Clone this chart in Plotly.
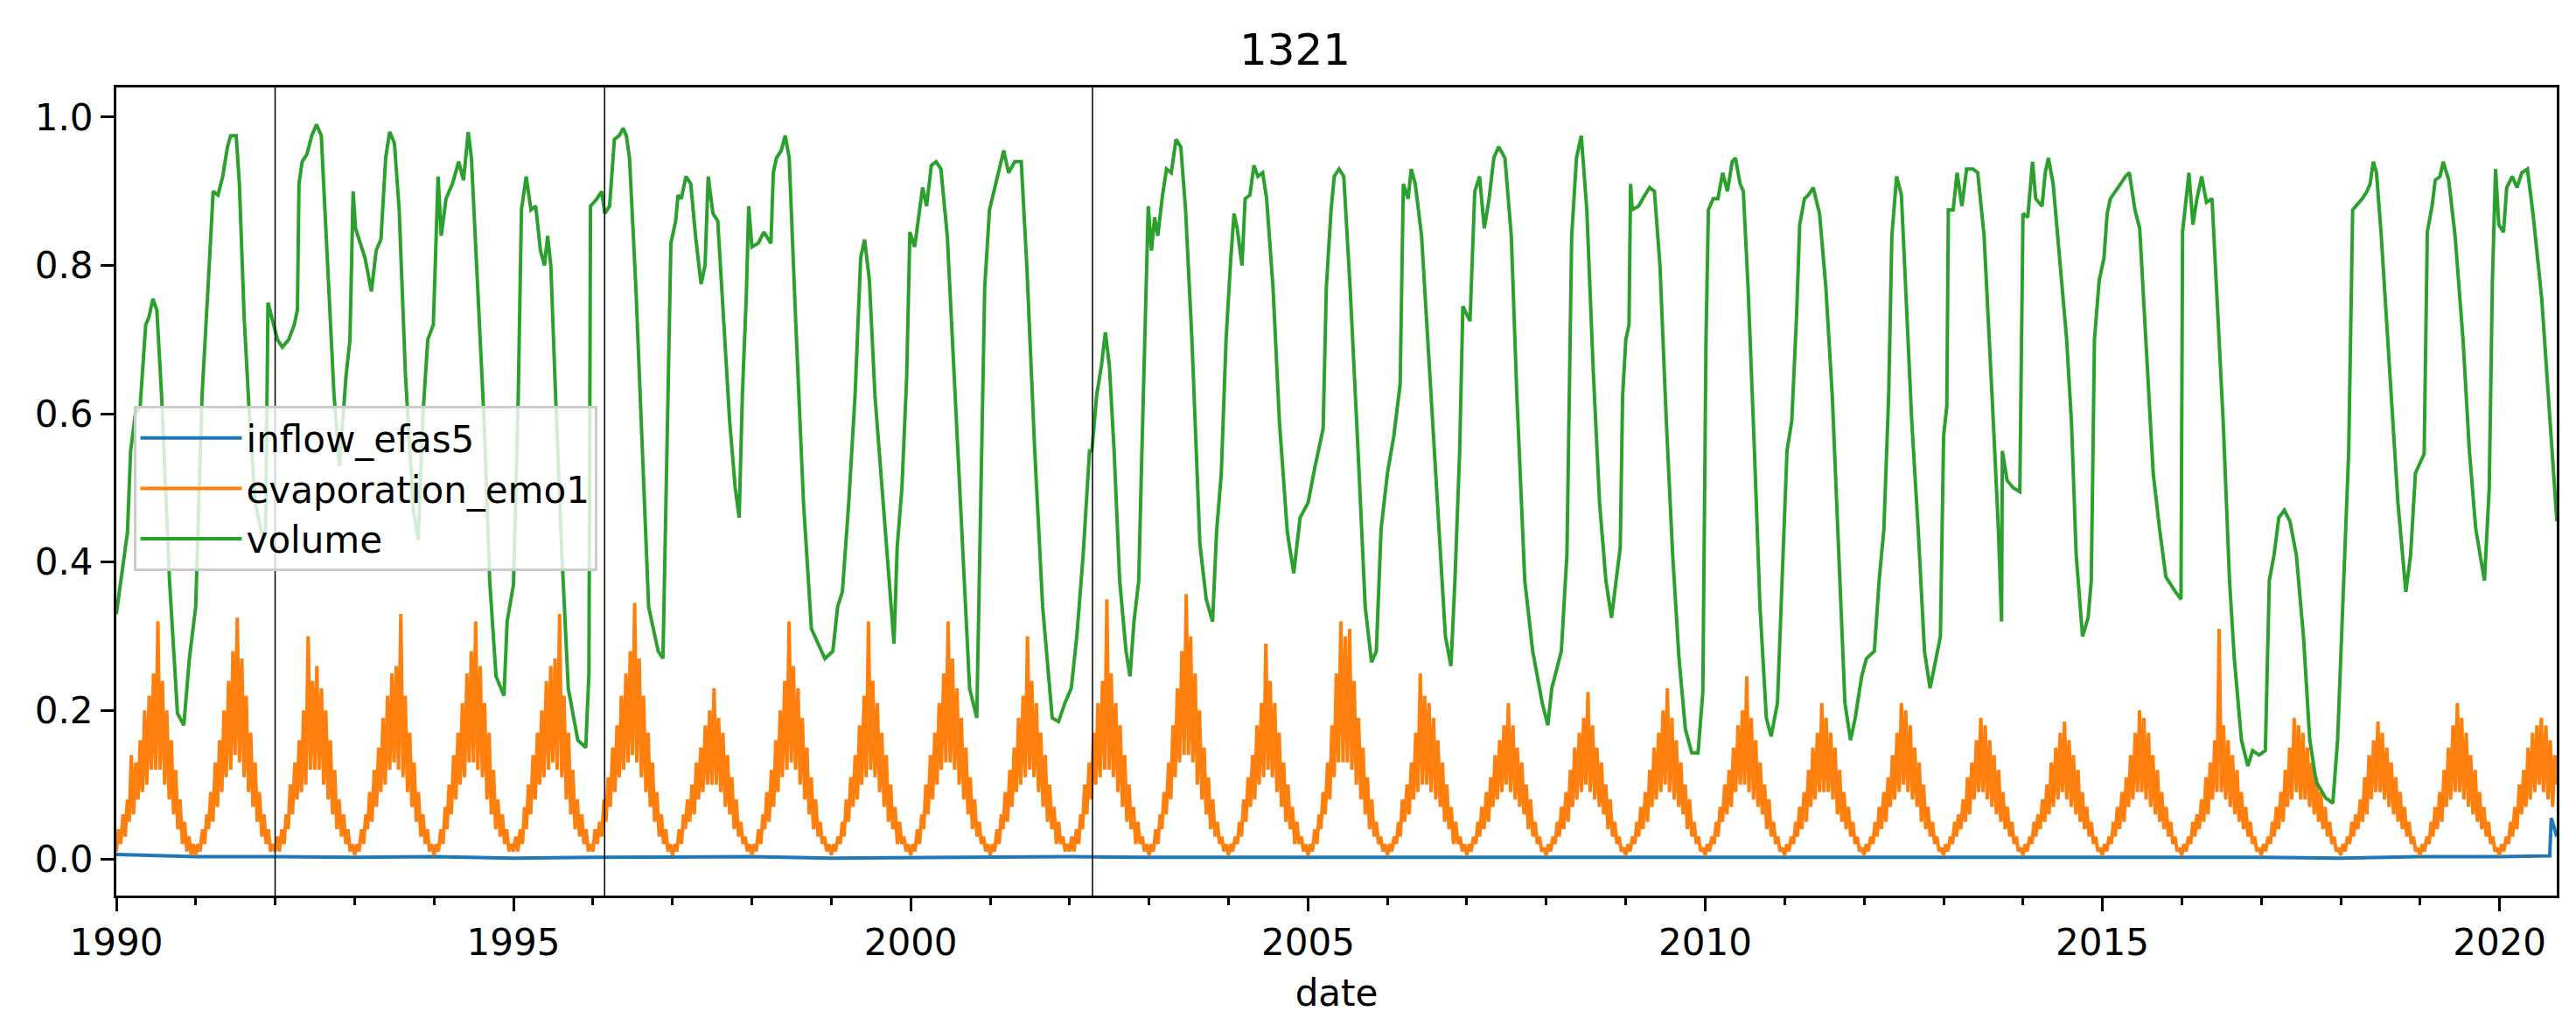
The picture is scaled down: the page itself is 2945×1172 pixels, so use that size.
import pandas as pd
import plotly.graph_objects as go

title = "1321"
series_names = ["inflow_efas5", "evaporation_emo1", "volume"]
colors = ["#1f77b4", "#ff7f0e", "#2ca02c"]

# vertical marker lines
event_dates = ["1992-01-01", "1996-02-24", "2002-04-16"]

# volume (decimal year, value)
vol_year = [
    1990.00, 1990.14, 1990.18, 1990.24, 1990.30, 1990.37, 1990.41, 1990.46, 1990.51, 1990.57,
    1990.67, 1990.77, 1990.85, 1990.92, 1991.00, 1991.08, 1991.16, 1991.22, 1991.28, 1991.34,
    1991.40, 1991.44, 1991.51, 1991.55, 1991.61, 1991.67, 1991.75, 1991.83, 1991.88, 1991.91,
    1992.03, 1992.09, 1992.17, 1992.24, 1992.28, 1992.30, 1992.34, 1992.40, 1992.46, 1992.52,
    1992.58, 1992.66, 1992.74, 1992.81, 1992.89, 1992.94, 1992.98, 1993.01, 1993.13, 1993.21,
    1993.27, 1993.33, 1993.39, 1993.44, 1993.50, 1993.56, 1993.64, 1993.74, 1993.80, 1993.86,
    1993.92, 1993.99, 1994.05, 1994.09, 1994.15, 1994.23, 1994.31, 1994.37, 1994.43, 1994.47,
    1994.55, 1994.63, 1994.70, 1994.78, 1994.88, 1994.92, 1995.00, 1995.06, 1995.10, 1995.16,
    1995.22, 1995.28, 1995.34, 1995.39, 1995.43, 1995.47, 1995.53, 1995.61, 1995.69, 1995.81,
    1995.91, 1995.95, 1995.97, 1996.05, 1996.11, 1996.15, 1996.21, 1996.27, 1996.33, 1996.38,
    1996.42, 1996.46, 1996.54, 1996.62, 1996.70, 1996.76, 1996.82, 1996.88, 1996.92, 1996.96,
    1996.98, 1997.04, 1997.07, 1997.11, 1997.17, 1997.23, 1997.29, 1997.36, 1997.41, 1997.45,
    1997.51, 1997.57, 1997.63, 1997.72, 1997.79, 1997.84, 1997.88, 1997.93, 1997.96, 1998.00,
    1998.08, 1998.15, 1998.24, 1998.27, 1998.31, 1998.37, 1998.42, 1998.47, 1998.55, 1998.65,
    1998.75, 1998.83, 1998.92, 1999.02, 1999.08, 1999.14, 1999.22, 1999.30, 1999.37, 1999.42,
    1999.48, 1999.55, 1999.63, 1999.71, 1999.79, 1999.83, 1999.89, 1999.95, 1999.99, 2000.05,
    2000.09, 2000.15, 2000.20, 2000.26, 2000.32, 2000.38, 2000.46, 2000.56, 2000.66, 2000.74,
    2000.83, 2000.87, 2000.93, 2000.99, 2001.07, 2001.17, 2001.23, 2001.31, 2001.39, 2001.46,
    2001.56, 2001.66, 2001.78, 2001.86, 2001.94, 2002.02, 2002.09, 2002.17, 2002.25, 2002.28,
    2002.34, 2002.40, 2002.45, 2002.50, 2002.56, 2002.63, 2002.71, 2002.76, 2002.81, 2002.87,
    2002.91, 2002.95, 2002.99, 2003.03, 2003.07, 2003.11, 2003.17, 2003.22, 2003.28, 2003.34,
    2003.40, 2003.46, 2003.54, 2003.64, 2003.72, 2003.80, 2003.85, 2003.91, 2003.97, 2004.03,
    2004.07, 2004.11, 2004.17, 2004.21, 2004.27, 2004.32, 2004.37, 2004.43, 2004.48, 2004.56,
    2004.64, 2004.74, 2004.82, 2004.90, 2005.00, 2005.09, 2005.19, 2005.23, 2005.29, 2005.33,
    2005.39, 2005.45, 2005.53, 2005.63, 2005.72, 2005.80, 2005.86, 2005.92, 2006.00, 2006.08,
    2006.16, 2006.20, 2006.26, 2006.30, 2006.35, 2006.43, 2006.53, 2006.65, 2006.73, 2006.80,
    2006.85, 2006.91, 2006.95, 2007.04, 2007.10, 2007.16, 2007.22, 2007.28, 2007.34, 2007.40,
    2007.48, 2007.56, 2007.63, 2007.73, 2007.83, 2007.95, 2008.02, 2008.07, 2008.19, 2008.26,
    2008.32, 2008.38, 2008.44, 2008.51, 2008.59, 2008.67, 2008.75, 2008.82, 2008.88, 2008.93,
    2008.96, 2009.00, 2009.04, 2009.06, 2009.08, 2009.16, 2009.24, 2009.30, 2009.36, 2009.43,
    2009.51, 2009.59, 2009.67, 2009.75, 2009.83, 2009.91, 2009.97, 2010.01, 2010.04, 2010.10,
    2010.16, 2010.22, 2010.28, 2010.34, 2010.38, 2010.44, 2010.48, 2010.54, 2010.62, 2010.69,
    2010.77, 2010.83, 2010.91, 2010.97, 2011.03, 2011.09, 2011.15, 2011.19, 2011.25, 2011.30,
    2011.36, 2011.44, 2011.52, 2011.60, 2011.68, 2011.76, 2011.83, 2011.89, 2011.97, 2012.03,
    2012.13, 2012.19, 2012.25, 2012.31, 2012.35, 2012.41, 2012.47, 2012.52, 2012.60, 2012.68,
    2012.76, 2012.83, 2012.90, 2012.96, 2013.00, 2013.04, 2013.06, 2013.12, 2013.17, 2013.23,
    2013.29, 2013.37, 2013.43, 2013.51, 2013.61, 2013.69, 2013.73, 2013.74, 2013.80, 2013.88,
    2013.96, 2014.00, 2014.06, 2014.12, 2014.16, 2014.24, 2014.28, 2014.32, 2014.38, 2014.45,
    2014.55, 2014.61, 2014.67, 2014.75, 2014.82, 2014.86, 2014.90, 2014.96, 2015.02, 2015.06,
    2015.10, 2015.23, 2015.29, 2015.34, 2015.41, 2015.47, 2015.55, 2015.64, 2015.72, 2015.80,
    2015.92, 2015.99, 2016.01, 2016.09, 2016.14, 2016.19, 2016.25, 2016.31, 2016.38, 2016.44,
    2016.52, 2016.60, 2016.66, 2016.75, 2016.83, 2016.89, 2016.97, 2017.05, 2017.10, 2017.16,
    2017.22, 2017.29, 2017.36, 2017.44, 2017.53, 2017.61, 2017.69, 2017.81, 2017.90, 2017.96,
    2018.02, 2018.10, 2018.15, 2018.27, 2018.33, 2018.37, 2018.41, 2018.45, 2018.51, 2018.62,
    2018.72, 2018.82, 2018.88, 2018.94, 2019.05, 2019.09, 2019.15, 2019.19, 2019.25, 2019.29,
    2019.36, 2019.44, 2019.54, 2019.62, 2019.70, 2019.81, 2019.87, 2019.91, 2019.95, 2019.99,
    2020.05, 2020.09, 2020.16, 2020.22, 2020.28, 2020.35, 2020.42, 2020.53, 2020.63, 2020.72,
]
vol_value = [
    0.33, 0.44, 0.55, 0.60, 0.61, 0.72, 0.73, 0.755, 0.74, 0.625,
    0.375, 0.196, 0.18, 0.27, 0.34, 0.625, 0.78, 0.90, 0.895, 0.92,
    0.96, 0.975, 0.975, 0.91, 0.73, 0.61, 0.48, 0.44, 0.44, 0.75,
    0.70, 0.69, 0.70, 0.72, 0.74, 0.91, 0.94, 0.95, 0.975, 0.99,
    0.975, 0.80, 0.625, 0.53, 0.65, 0.70, 0.90, 0.85, 0.81, 0.765,
    0.82, 0.835, 0.945, 0.98, 0.965, 0.875, 0.65, 0.47, 0.43, 0.60,
    0.70, 0.72, 0.92, 0.84, 0.89, 0.91, 0.94, 0.915, 0.98, 0.945,
    0.77, 0.59, 0.375, 0.246, 0.22, 0.32, 0.37, 0.625, 0.875, 0.92,
    0.875, 0.88, 0.82, 0.80, 0.84, 0.80, 0.625, 0.41, 0.23, 0.16,
    0.15, 0.25, 0.88, 0.89, 0.90, 0.87, 0.88, 0.97, 0.975, 0.985,
    0.975, 0.945, 0.77, 0.55, 0.34, 0.31, 0.28, 0.27, 0.50, 0.73,
    0.83, 0.86, 0.895, 0.89, 0.92, 0.91, 0.84, 0.775, 0.80, 0.92,
    0.87, 0.86, 0.755, 0.59, 0.50, 0.46, 0.625, 0.76, 0.88, 0.825,
    0.83, 0.845, 0.83, 0.925, 0.945, 0.955, 0.975, 0.945, 0.73, 0.48,
    0.31, 0.29, 0.27, 0.28, 0.34, 0.36, 0.48, 0.625, 0.81, 0.835,
    0.78, 0.625, 0.51, 0.40, 0.29, 0.42, 0.50, 0.65, 0.845, 0.825,
    0.86, 0.905, 0.88, 0.935, 0.94, 0.93, 0.84, 0.625, 0.41, 0.23,
    0.19, 0.41, 0.77, 0.875, 0.91, 0.955, 0.925, 0.94, 0.94, 0.80,
    0.55, 0.34, 0.19, 0.185, 0.21, 0.23, 0.30, 0.41, 0.55, 0.55,
    0.625, 0.665, 0.71, 0.665, 0.55, 0.375, 0.28, 0.246, 0.32, 0.375,
    0.55, 0.73, 0.88, 0.82, 0.865, 0.84, 0.895, 0.93, 0.925, 0.97,
    0.96, 0.875, 0.70, 0.425, 0.35, 0.32, 0.44, 0.52, 0.70, 0.81,
    0.87, 0.85, 0.80, 0.89, 0.895, 0.935, 0.92, 0.925, 0.89, 0.77,
    0.59, 0.44, 0.385, 0.46, 0.48, 0.53, 0.58, 0.77, 0.875, 0.92,
    0.93, 0.92, 0.77, 0.55, 0.34, 0.265, 0.28, 0.445, 0.52, 0.57,
    0.64, 0.91, 0.89, 0.93, 0.91, 0.84, 0.66, 0.445, 0.30, 0.26,
    0.375, 0.55, 0.745, 0.725, 0.90, 0.92, 0.85, 0.89, 0.945, 0.96,
    0.945, 0.84, 0.625, 0.375, 0.28, 0.21, 0.18, 0.23, 0.28, 0.41,
    0.84, 0.945, 0.975, 0.875, 0.66, 0.48, 0.375, 0.325, 0.375, 0.42,
    0.625, 0.70, 0.72, 0.91, 0.875, 0.88, 0.895, 0.905, 0.90, 0.80,
    0.59, 0.41, 0.27, 0.175, 0.143, 0.143, 0.225, 0.70, 0.875, 0.89,
    0.89, 0.925, 0.90, 0.94, 0.945, 0.91, 0.90, 0.77, 0.55, 0.34,
    0.19, 0.165, 0.21, 0.375, 0.55, 0.59, 0.73, 0.855, 0.89, 0.895,
    0.905, 0.87, 0.77, 0.625, 0.41, 0.21, 0.16, 0.19, 0.246, 0.27,
    0.28, 0.375, 0.445, 0.625, 0.84, 0.92, 0.895, 0.77, 0.59, 0.445,
    0.28, 0.23, 0.27, 0.30, 0.57, 0.61, 0.875, 0.875, 0.925, 0.88,
    0.93, 0.93, 0.925, 0.84, 0.625, 0.445, 0.32, 0.55, 0.51, 0.50,
    0.495, 0.87, 0.865, 0.94, 0.89, 0.88, 0.925, 0.945, 0.91, 0.825,
    0.70, 0.59, 0.41, 0.30, 0.325, 0.375, 0.70, 0.78, 0.81, 0.87,
    0.89, 0.91, 0.92, 0.925, 0.875, 0.85, 0.70, 0.52, 0.445, 0.38,
    0.36, 0.35, 0.845, 0.925, 0.855, 0.89, 0.92, 0.885, 0.89, 0.77,
    0.59, 0.375, 0.27, 0.16, 0.125, 0.146, 0.14, 0.146, 0.375, 0.41,
    0.46, 0.47, 0.455, 0.41, 0.30, 0.16, 0.104, 0.082, 0.075, 0.16,
    0.34, 0.55, 0.875, 0.89, 0.90, 0.91, 0.94, 0.925, 0.84, 0.66,
    0.48, 0.36, 0.41, 0.52, 0.546, 0.845, 0.88, 0.915, 0.92, 0.94,
    0.915, 0.84, 0.70, 0.55, 0.445, 0.375, 0.50, 0.78, 0.93, 0.855,
    0.845, 0.905, 0.92, 0.905, 0.925, 0.93, 0.87, 0.755, 0.59, 0.455,
]

# inflow, nearly flat close to zero
inflow_year = [
    1990.0, 1990.5, 1991.0, 1992.0, 1993.0, 1994.0, 1995.0, 1996.0, 1997.0, 1998.0,
    1999.0, 2000.0, 2001.0, 2002.0, 2003.0, 2004.0, 2005.0, 2006.0, 2007.0, 2008.0,
    2009.0, 2010.0, 2011.0, 2012.0, 2013.0, 2014.0, 2015.0, 2016.0, 2017.0, 2018.0,
    2019.0, 2020.0, 2020.5, 2020.63, 2020.65, 2020.72,
]
inflow_value = [
    0.006, 0.004, 0.003, 0.003, 0.002, 0.003, 0.001, 0.002, 0.002, 0.003,
    0.001, 0.002, 0.002, 0.003, 0.002, 0.002, 0.003, 0.002, 0.002, 0.003,
    0.002, 0.002, 0.003, 0.002, 0.002, 0.003, 0.003, 0.003, 0.002, 0.001,
    0.003, 0.003, 0.004, 0.004, 0.055, 0.03,
]

# evaporation, three readings per month (1st, 11th, 21st), one row per year
evap_years = list(range(1990, 2021))
evap_rows = [
    [0.01, 0.04, 0.02, 0.06, 0.03, 0.08, 0.05, 0.14, 0.06, 0.13, 0.08, 0.16, 0.09, 0.20, 0.10, 0.22, 0.12, 0.25, 0.12, 0.32, 0.12, 0.24, 0.10, 0.20, 0.08, 0.16, 0.06, 0.12, 0.04, 0.08, 0.02, 0.05, 0.01, 0.03, 0.005, 0.02],
    [0.005, 0.02, 0.01, 0.04, 0.02, 0.06, 0.04, 0.09, 0.05, 0.13, 0.07, 0.16, 0.09, 0.20, 0.11, 0.24, 0.12, 0.28, 0.14, 0.325, 0.13, 0.27, 0.11, 0.22, 0.09, 0.17, 0.07, 0.13, 0.05, 0.09, 0.03, 0.06, 0.02, 0.04, 0.01, 0.02],
    [0.01, 0.03, 0.01, 0.04, 0.02, 0.06, 0.04, 0.10, 0.06, 0.13, 0.08, 0.16, 0.09, 0.20, 0.10, 0.30, 0.12, 0.24, 0.12, 0.26, 0.12, 0.23, 0.10, 0.20, 0.08, 0.16, 0.06, 0.12, 0.04, 0.08, 0.03, 0.06, 0.02, 0.04, 0.01, 0.02],
    [0.005, 0.02, 0.01, 0.04, 0.02, 0.06, 0.04, 0.09, 0.05, 0.12, 0.07, 0.15, 0.09, 0.19, 0.10, 0.22, 0.12, 0.25, 0.13, 0.26, 0.12, 0.33, 0.11, 0.22, 0.09, 0.17, 0.07, 0.13, 0.05, 0.09, 0.03, 0.06, 0.02, 0.04, 0.01, 0.02],
    [0.005, 0.02, 0.01, 0.04, 0.02, 0.07, 0.04, 0.10, 0.06, 0.14, 0.08, 0.17, 0.10, 0.21, 0.11, 0.25, 0.13, 0.28, 0.13, 0.32, 0.12, 0.26, 0.11, 0.21, 0.08, 0.17, 0.06, 0.12, 0.04, 0.08, 0.03, 0.06, 0.02, 0.04, 0.01, 0.02],
    [0.01, 0.03, 0.01, 0.04, 0.02, 0.07, 0.04, 0.10, 0.06, 0.14, 0.08, 0.17, 0.10, 0.20, 0.11, 0.24, 0.12, 0.26, 0.13, 0.27, 0.12, 0.33, 0.11, 0.22, 0.08, 0.17, 0.06, 0.12, 0.04, 0.08, 0.03, 0.06, 0.02, 0.04, 0.01, 0.02],
    [0.01, 0.04, 0.02, 0.05, 0.03, 0.08, 0.05, 0.11, 0.07, 0.15, 0.09, 0.18, 0.11, 0.22, 0.12, 0.25, 0.13, 0.28, 0.14, 0.345, 0.13, 0.27, 0.11, 0.22, 0.09, 0.17, 0.07, 0.13, 0.05, 0.09, 0.03, 0.06, 0.02, 0.04, 0.01, 0.02],
    [0.005, 0.02, 0.01, 0.04, 0.02, 0.06, 0.04, 0.08, 0.05, 0.10, 0.06, 0.13, 0.08, 0.15, 0.09, 0.18, 0.10, 0.20, 0.10, 0.23, 0.10, 0.19, 0.09, 0.17, 0.07, 0.14, 0.06, 0.11, 0.04, 0.08, 0.03, 0.05, 0.02, 0.03, 0.01, 0.02],
    [0.005, 0.02, 0.01, 0.04, 0.02, 0.06, 0.04, 0.09, 0.05, 0.12, 0.07, 0.16, 0.09, 0.20, 0.11, 0.24, 0.12, 0.32, 0.13, 0.26, 0.12, 0.23, 0.10, 0.19, 0.08, 0.15, 0.06, 0.11, 0.04, 0.08, 0.03, 0.05, 0.02, 0.03, 0.01, 0.02],
    [0.005, 0.02, 0.01, 0.03, 0.02, 0.05, 0.03, 0.08, 0.05, 0.11, 0.07, 0.14, 0.08, 0.18, 0.10, 0.22, 0.11, 0.32, 0.12, 0.24, 0.11, 0.21, 0.09, 0.17, 0.07, 0.14, 0.05, 0.10, 0.04, 0.07, 0.02, 0.05, 0.02, 0.03, 0.01, 0.02],
    [0.005, 0.02, 0.01, 0.04, 0.02, 0.06, 0.04, 0.10, 0.06, 0.14, 0.08, 0.17, 0.10, 0.21, 0.12, 0.25, 0.13, 0.32, 0.13, 0.27, 0.12, 0.23, 0.10, 0.19, 0.08, 0.15, 0.06, 0.11, 0.04, 0.08, 0.03, 0.05, 0.02, 0.03, 0.01, 0.02],
    [0.005, 0.02, 0.01, 0.04, 0.02, 0.06, 0.04, 0.09, 0.05, 0.12, 0.07, 0.15, 0.09, 0.19, 0.10, 0.22, 0.11, 0.30, 0.12, 0.24, 0.11, 0.21, 0.09, 0.17, 0.07, 0.14, 0.05, 0.10, 0.04, 0.07, 0.02, 0.05, 0.02, 0.03, 0.01, 0.02],
    [0.01, 0.03, 0.01, 0.04, 0.02, 0.06, 0.04, 0.10, 0.06, 0.13, 0.08, 0.17, 0.10, 0.21, 0.11, 0.24, 0.12, 0.35, 0.12, 0.25, 0.11, 0.21, 0.09, 0.18, 0.07, 0.14, 0.05, 0.10, 0.04, 0.07, 0.02, 0.05, 0.02, 0.03, 0.01, 0.02],
    [0.005, 0.02, 0.01, 0.04, 0.02, 0.06, 0.04, 0.09, 0.06, 0.13, 0.08, 0.18, 0.11, 0.23, 0.13, 0.28, 0.14, 0.357, 0.14, 0.30, 0.13, 0.25, 0.10, 0.20, 0.08, 0.15, 0.06, 0.11, 0.04, 0.08, 0.03, 0.05, 0.02, 0.03, 0.01, 0.02],
    [0.005, 0.02, 0.01, 0.03, 0.02, 0.05, 0.03, 0.08, 0.05, 0.11, 0.07, 0.14, 0.08, 0.18, 0.10, 0.21, 0.11, 0.29, 0.12, 0.24, 0.11, 0.21, 0.09, 0.17, 0.07, 0.13, 0.05, 0.10, 0.04, 0.07, 0.02, 0.05, 0.02, 0.03, 0.01, 0.02],
    [0.005, 0.02, 0.01, 0.04, 0.02, 0.06, 0.04, 0.09, 0.06, 0.13, 0.08, 0.18, 0.11, 0.25, 0.13, 0.32, 0.13, 0.30, 0.13, 0.31, 0.12, 0.24, 0.10, 0.19, 0.08, 0.15, 0.06, 0.11, 0.04, 0.08, 0.03, 0.05, 0.02, 0.03, 0.01, 0.02],
    [0.005, 0.02, 0.01, 0.03, 0.02, 0.05, 0.03, 0.08, 0.05, 0.10, 0.06, 0.13, 0.08, 0.17, 0.09, 0.25, 0.10, 0.22, 0.10, 0.21, 0.09, 0.19, 0.08, 0.16, 0.07, 0.13, 0.05, 0.10, 0.04, 0.07, 0.02, 0.05, 0.02, 0.03, 0.01, 0.02],
    [0.005, 0.02, 0.01, 0.03, 0.02, 0.05, 0.03, 0.07, 0.04, 0.09, 0.05, 0.11, 0.07, 0.14, 0.08, 0.16, 0.09, 0.18, 0.10, 0.21, 0.09, 0.18, 0.08, 0.15, 0.07, 0.13, 0.06, 0.10, 0.04, 0.08, 0.03, 0.05, 0.02, 0.03, 0.01, 0.015],
    [0.005, 0.02, 0.01, 0.03, 0.02, 0.05, 0.03, 0.07, 0.04, 0.09, 0.05, 0.12, 0.07, 0.15, 0.08, 0.17, 0.09, 0.19, 0.10, 0.225, 0.09, 0.18, 0.08, 0.15, 0.07, 0.13, 0.06, 0.10, 0.04, 0.08, 0.03, 0.05, 0.02, 0.03, 0.01, 0.015],
    [0.005, 0.02, 0.01, 0.03, 0.02, 0.05, 0.03, 0.07, 0.04, 0.09, 0.05, 0.12, 0.07, 0.15, 0.08, 0.17, 0.09, 0.20, 0.10, 0.23, 0.09, 0.19, 0.08, 0.16, 0.07, 0.13, 0.06, 0.10, 0.04, 0.08, 0.03, 0.05, 0.02, 0.03, 0.01, 0.015],
    [0.005, 0.02, 0.01, 0.03, 0.02, 0.05, 0.03, 0.07, 0.05, 0.10, 0.06, 0.12, 0.07, 0.15, 0.09, 0.18, 0.10, 0.20, 0.10, 0.246, 0.09, 0.19, 0.08, 0.16, 0.07, 0.13, 0.06, 0.10, 0.04, 0.08, 0.03, 0.05, 0.02, 0.03, 0.01, 0.015],
    [0.005, 0.02, 0.01, 0.03, 0.02, 0.05, 0.03, 0.07, 0.04, 0.09, 0.05, 0.12, 0.07, 0.15, 0.08, 0.17, 0.09, 0.21, 0.09, 0.19, 0.09, 0.17, 0.08, 0.15, 0.06, 0.12, 0.05, 0.09, 0.04, 0.07, 0.03, 0.05, 0.02, 0.03, 0.01, 0.015],
    [0.005, 0.02, 0.01, 0.03, 0.02, 0.05, 0.03, 0.07, 0.04, 0.09, 0.05, 0.11, 0.07, 0.14, 0.08, 0.17, 0.09, 0.21, 0.10, 0.20, 0.09, 0.18, 0.08, 0.15, 0.07, 0.13, 0.05, 0.10, 0.04, 0.07, 0.03, 0.05, 0.02, 0.03, 0.01, 0.015],
    [0.005, 0.02, 0.01, 0.03, 0.02, 0.05, 0.03, 0.06, 0.04, 0.08, 0.05, 0.11, 0.06, 0.13, 0.08, 0.16, 0.09, 0.19, 0.09, 0.18, 0.08, 0.16, 0.07, 0.14, 0.06, 0.12, 0.05, 0.09, 0.04, 0.07, 0.03, 0.05, 0.02, 0.03, 0.01, 0.015],
    [0.005, 0.02, 0.01, 0.03, 0.02, 0.05, 0.03, 0.06, 0.04, 0.08, 0.05, 0.10, 0.06, 0.13, 0.07, 0.15, 0.08, 0.17, 0.09, 0.185, 0.08, 0.16, 0.07, 0.14, 0.06, 0.12, 0.05, 0.09, 0.04, 0.07, 0.03, 0.05, 0.02, 0.03, 0.01, 0.015],
    [0.005, 0.02, 0.01, 0.03, 0.02, 0.05, 0.03, 0.07, 0.04, 0.09, 0.05, 0.11, 0.07, 0.14, 0.08, 0.17, 0.09, 0.20, 0.09, 0.19, 0.08, 0.17, 0.07, 0.14, 0.06, 0.12, 0.05, 0.09, 0.04, 0.07, 0.03, 0.05, 0.02, 0.03, 0.01, 0.015],
    [0.005, 0.02, 0.01, 0.03, 0.02, 0.05, 0.03, 0.06, 0.04, 0.08, 0.05, 0.11, 0.06, 0.13, 0.08, 0.16, 0.09, 0.31, 0.09, 0.18, 0.08, 0.16, 0.07, 0.14, 0.06, 0.12, 0.05, 0.09, 0.04, 0.07, 0.03, 0.05, 0.02, 0.03, 0.01, 0.015],
    [0.005, 0.02, 0.01, 0.03, 0.02, 0.05, 0.03, 0.07, 0.04, 0.09, 0.05, 0.12, 0.07, 0.15, 0.08, 0.19, 0.09, 0.18, 0.08, 0.17, 0.08, 0.15, 0.07, 0.13, 0.06, 0.11, 0.05, 0.09, 0.04, 0.07, 0.03, 0.05, 0.02, 0.03, 0.01, 0.015],
    [0.005, 0.02, 0.01, 0.03, 0.02, 0.05, 0.03, 0.06, 0.04, 0.08, 0.05, 0.11, 0.06, 0.14, 0.08, 0.16, 0.09, 0.185, 0.09, 0.17, 0.08, 0.15, 0.07, 0.13, 0.06, 0.11, 0.05, 0.09, 0.04, 0.07, 0.03, 0.05, 0.02, 0.03, 0.01, 0.015],
    [0.005, 0.02, 0.01, 0.03, 0.02, 0.05, 0.03, 0.07, 0.04, 0.09, 0.05, 0.12, 0.07, 0.15, 0.08, 0.18, 0.09, 0.21, 0.09, 0.19, 0.08, 0.17, 0.07, 0.14, 0.06, 0.12, 0.05, 0.09, 0.04, 0.07, 0.03, 0.05, 0.02, 0.03, 0.01, 0.015],
    [0.005, 0.02, 0.01, 0.03, 0.02, 0.05, 0.03, 0.07, 0.04, 0.10, 0.06, 0.12, 0.07, 0.15, 0.08, 0.17, 0.09, 0.18, 0.10, 0.19, 0.09, 0.18, 0.08, 0.16, 0.07, 0.14, 0.10],
]


def year_to_date(t):
    y = int(t)
    start = pd.Timestamp(year=y, month=1, day=1)
    end = pd.Timestamp(year=y + 1, month=1, day=1)
    return start + (end - start) * (t - y)


vol_dates = [year_to_date(t) for t in vol_year]
inflow_dates = [year_to_date(t) for t in inflow_year]

evap_dates = []
evap_values = []
for year, row in zip(evap_years, evap_rows):
    for i, v in enumerate(row):
        evap_dates.append(pd.Timestamp(year=year, month=i // 3 + 1, day=1 + 10 * (i % 3)))
        evap_values.append(v)

fig = go.Figure()
for name, xs, ys, color in [
    (series_names[0], inflow_dates, inflow_value, colors[0]),
    (series_names[1], evap_dates, evap_values, colors[1]),
    (series_names[2], vol_dates, vol_value, colors[2]),
]:
    fig.add_trace(go.Scatter(x=xs, y=ys, mode="lines", name=name, line=dict(color=color, width=4)))

for d in event_dates:
    fig.add_shape(type="line", xref="x", yref="paper", x0=d, x1=d, y0=0, y1=1,
                  line=dict(color="black", width=1.5))

font = "DejaVu Sans, Liberation Sans, sans-serif"
fig.update_layout(
    width=2945,
    height=1172,
    paper_bgcolor="white",
    plot_bgcolor="white",
    font=dict(family=font, size=42, color="black"),
    margin=dict(l=125, r=30, t=92, b=156),
    title=dict(text=title, x=0.5, xanchor="center", y=1 - 48 / 1172, yanchor="middle",
               font=dict(size=50, color="black")),
    showlegend=True,
    legend=dict(x=0.007, y=0.606, xanchor="left", yanchor="top", itemwidth=116,
                bgcolor="rgba(255,255,255,0.8)", bordercolor="#cccccc", borderwidth=3,
                font=dict(size=42)),
    xaxis=dict(
        type="date",
        range=["1990-01-01", "2020-09-20"],
        tick0="1990-01-01", dtick="M60", tickformat="%Y",
        ticks="outside", ticklen=15, tickwidth=3, tickcolor="black",
        minor=dict(ticks="outside", dtick="M12", tick0="1990-01-01", ticklen=8,
                   tickwidth=3, tickcolor="black"),
        showline=True, linecolor="black", linewidth=3, mirror=True,
        showgrid=False, zeroline=False,
        title=dict(text="date", standoff=20, font=dict(size=42)),
    ),
    yaxis=dict(
        range=[-0.0495, 1.04],
        tickvals=[0, 0.2, 0.4, 0.6, 0.8, 1.0], tickformat=".1f",
        ticks="outside", ticklen=15, tickwidth=3, tickcolor="black",
        showline=True, linecolor="black", linewidth=3, mirror=True,
        showgrid=False, zeroline=False,
    ),
)

fig.write_html("out.html")
